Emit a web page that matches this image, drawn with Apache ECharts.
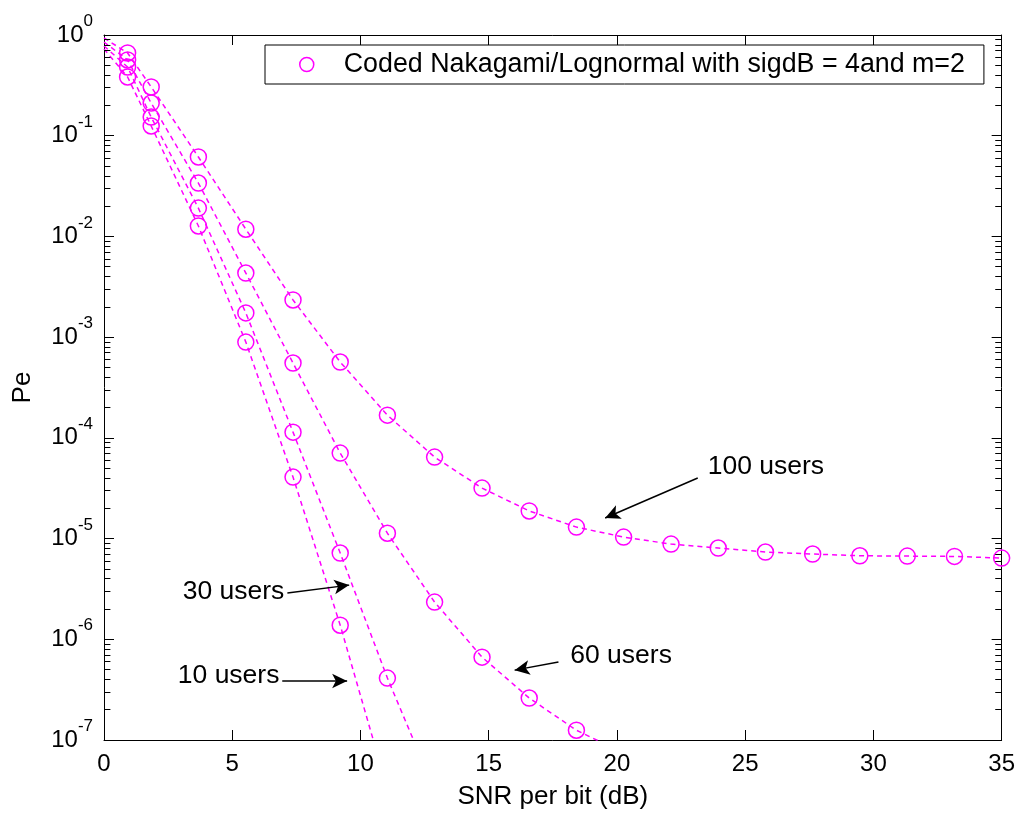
<!DOCTYPE html>
<html>
<head>
<meta charset="utf-8">
<script src="https://cdn.jsdelivr.net/npm/echarts@6/dist/echarts.min.js"></script>
<style>
html,body{margin:0;padding:0;background:#fff;}
#c{width:1018px;height:819px;}
</style>
</head>
<body>
<div id="c"></div>
<script>
// ---- data ----
const snrDb = [0, 0.92, 1.84, 3.68, 5.53, 7.37, 9.21, 11.05, 12.89, 14.74, 16.58, 18.42, 20.26, 22.11, 23.95, 25.79, 27.63, 29.47, 31.32, 33.16, 35];
const pe100 = [0.934, 0.663, 0.305, 0.0615, 0.0118, 2.34e-3, 5.66e-4, 1.68e-4, 6.44e-5, 3.17e-5, 1.88e-5, 1.30e-5, 1.035e-5, 8.81e-6, 8.05e-6, 7.35e-6, 7.02e-6, 6.75e-6, 6.70e-6, 6.65e-6, 6.40e-6];
const pe60 = [0.852, 0.565, 0.211, 0.0339, 4.33e-3, 5.53e-4, 7.06e-5, 1.13e-5, 2.34e-6, 6.65e-7, 2.61e-7, 1.25e-7, 7.41e-8];
const pe30 = [0.778, 0.481, 0.153, 0.0191, 1.74e-3, 1.14e-4, 7.18e-6, 4.12e-7, 3.18e-8];
const pe10 = [0.726, 0.383, 0.125, 0.0127, 8.93e-4, 4.08e-5, 1.38e-6, 3.26e-8];
const xTicks = [0, 5, 10, 15, 20, 25, 30, 35];
const legendName = 'Coded Nakagami/Lognormal with sigdB = 4and m=2';
const xTitle = 'SNR per bit (dB)';
const yTitle = 'Pe';
// annotation texts and arrow endpoints [x, Pe]
const annotTexts = [
  {text: '100 users', at: [23.54, 5.13e-5], side: 'right'},
  {text: '60 users', at: [18.18, 6.81e-7], side: 'right'},
  {text: '30 users', at: [7.03, 2.94e-6], side: 'left'},
  {text: '10 users', at: [6.84, 4.31e-7], side: 'left'}
];
const annotArrows = [
  [[23.15, 3.99e-5], [19.54, 1.60e-5]],
  [[17.72, 5.94e-7], [16.01, 4.94e-7]],
  [[7.15, 2.88e-6], [9.56, 3.45e-6]],
  [[6.95, 3.85e-7], [9.48, 3.85e-7]]
];

const MAG = '#ff00ff';
const FONT = '"Liberation Sans", Arial, sans-serif';

function pairs(arr) {
  return arr.map((v, i) => i === 0
    ? {value: [snrDb[i], v], symbol: 'none'}   // marker on the axis edge is clipped in the original
    : [snrDb[i], v]);
}

function curve(arr) {
  return {
    name: legendName,
    type: 'line',
    data: pairs(arr),
    symbol: 'circle',
    symbolSize: 16,
    showSymbol: true,
    clip: true,
    itemStyle: {color: 'rgba(0,0,0,0)', borderColor: MAG, borderWidth: 1.5},
    lineStyle: {color: MAG, width: 1.5, type: [5, 4]},
    emphasis: {disabled: true},
    z: 3
  };
}

// minor ticks of the log axis (2..9 per decade), on left and right edges
const minorLen = 0.25;
const minorLines = [];
for (let e = -7; e <= -1; e++) {
  for (let k = 2; k <= 9; k++) {
    const y = k * Math.pow(10, e);
    minorLines.push([{coord: [0, y]}, {coord: [minorLen, y]}]);
    minorLines.push([{coord: [35 - minorLen, y]}, {coord: [35, y]}]);
  }
}

const arrowLines = annotArrows.map(a => [{coord: a[0]}, {coord: a[1]}]);

const chart = echarts.init(document.getElementById('c'), null, {renderer: 'canvas'});
chart.setOption({
  animation: false,
  backgroundColor: '#fff',
  textStyle: {fontFamily: FONT},
  grid: {left: 104, right: 13, top: 35, bottom: 79, containLabel: false},
  legend: {
    data: [{name: legendName, icon: 'circle', itemStyle: {color: '#fff', borderColor: MAG, borderWidth: 1.5}}],
    left: 265, top: 45,
    padding: [6, 19, 6, 34],
    itemWidth: 14, itemHeight: 14,
    borderColor: '#000', borderWidth: 1,
    backgroundColor: '#fff',
    textStyle: {fontSize: 26.8, color: '#000', fontFamily: FONT, padding: [0, 0, 0, 25]},
    selectedMode: false,
    z: 10
  },
  xAxis: [{
    type: 'value', min: 0, max: 35, interval: 5, position: 'bottom',
    name: xTitle, nameLocation: 'middle', nameGap: 44,
    nameTextStyle: {fontSize: 26, color: '#000', fontFamily: FONT},
    axisLine: {show: true, onZero: false, lineStyle: {color: '#000', width: 1}},
    axisTick: {show: true, inside: true, length: 10, lineStyle: {color: '#000'}},
    axisLabel: {fontSize: 24, color: '#000', margin: 12, fontFamily: FONT,
      formatter: v => xTicks.indexOf(v) >= 0 ? String(v) : ''},
    splitLine: {show: false}
  }, {
    type: 'value', min: 0, max: 35, interval: 5, position: 'top',
    axisLine: {show: true, onZero: false, lineStyle: {color: '#000', width: 1}},
    axisTick: {show: true, inside: true, length: 10, lineStyle: {color: '#000'}},
    axisLabel: {show: false}, splitLine: {show: false}
  }],
  yAxis: [{
    type: 'log', logBase: 10, min: 1e-7, max: 1, interval: 1, position: 'left',
    name: yTitle, nameLocation: 'middle', nameGap: 68, nameRotate: 90,
    nameTextStyle: {fontSize: 26, color: '#000', fontFamily: FONT},
    axisLine: {show: true, onZero: false, lineStyle: {color: '#000', width: 1}},
    axisTick: {show: true, inside: true, length: 10, lineStyle: {color: '#000'}},
    axisLabel: {
      margin: 11, color: '#000',
      formatter: v => '{b|10}{e|' + Math.round(Math.log10(v)) + '}',
      rich: {
        b: {fontSize: 24, lineHeight: 24, fontFamily: FONT, color: '#000', verticalAlign: 'middle'},
        e: {fontSize: 17, lineHeight: 44, fontFamily: FONT, color: '#000', verticalAlign: 'top'}
      }
    },
    splitLine: {show: false}
  }, {
    type: 'log', logBase: 10, min: 1e-7, max: 1, interval: 1, position: 'right',
    axisLine: {show: true, onZero: false, lineStyle: {color: '#000', width: 1}},
    axisTick: {show: true, inside: true, length: 10, lineStyle: {color: '#000'}},
    axisLabel: {show: false}, splitLine: {show: false}
  }],
  series: [
    curve(pe100),
    curve(pe60),
    curve(pe30),
    curve(pe10),
    {
      name: 'annotations',
      type: 'scatter',
      symbolSize: 0,
      silent: true,
      itemStyle: {opacity: 1},
      data: annotTexts.map(a => ({
        value: a.at,
        label: {show: true, formatter: a.text, position: a.side, distance: 0,
          fontSize: 26.5, color: '#000', opacity: 1, fontFamily: FONT}
      })),
      markLine: {
        silent: true, animation: false,
        symbol: ['none', 'none'],
        label: {show: false},
        lineStyle: {color: '#000', width: 1, type: 'solid', opacity: 1},
        data: minorLines
      },
      z: 5
    },
    {
      name: 'arrows',
      type: 'scatter',
      data: [],
      silent: true,
      markLine: {
        silent: true, animation: false,
        symbol: ['none', 'arrow'],
        symbolSize: [11, 15],
        label: {show: false},
        lineStyle: {color: '#000', width: 1.5, type: 'solid', opacity: 1},
        itemStyle: {color: '#000'},
        data: arrowLines
      },
      z: 6
    }
  ]
});
</script>
</body>
</html>
